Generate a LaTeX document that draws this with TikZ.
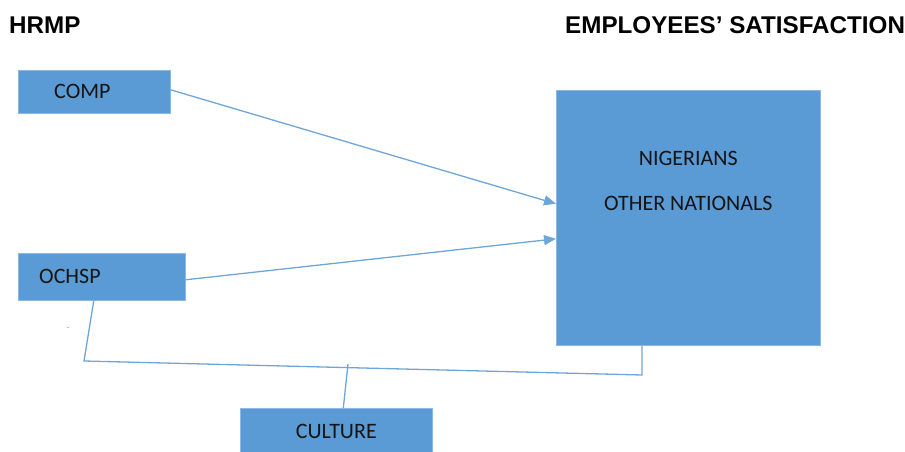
\documentclass[tikz,border=0pt]{standalone}
\usepackage{fontspec}
\setmainfont{Carlito}
\newfontfamily\headfont{Liberation Sans}
\usetikzlibrary{arrows.meta, calc, positioning}
\definecolor{box_blue}{HTML}{5B9BD5}
\definecolor{box_edge}{HTML}{8DB8E4}
\definecolor{link_blue}{HTML}{6FA6DA}
\definecolor{ink}{HTML}{141414}
\tikzstyle{hrm_box}=[rectangle, fill=box_blue, draw=box_edge, line width=0.6pt, inner sep=0, align=center, text=ink, font=\fontsize{22}{26}\selectfont]
\tikzstyle{box_text}=[inner sep=0, text=ink, font=\fontsize{22}{26}\selectfont]
\tikzstyle{heading}=[inner sep=0, anchor=west, font=\headfont\bfseries\fontsize{24.2}{29}\selectfont]
\tikzstyle{link}=[link_blue, line width=1.3pt]
\tikzstyle{link_arrow}=[link, -{Triangle[length=12pt, width=10pt]}]

\begin{document}
\begin{tikzpicture}[x=1pt, y=-1pt]
\useasboundingbox (0,0) rectangle (905,452);

% headings
\node [heading] (hrmp_head) at (9,25) {HRMP};
\node [heading] (sat_head)  at (565,25) {EMPLOYEES’ SATISFACTION};

% HRMP boxes
\node [hrm_box, minimum width=152pt, minimum height=43pt, anchor=north west] (comp) at (18,70) {};
\node [box_text] (comp_text) [right=36pt of comp.west, anchor=west] {COMP};
\node [hrm_box, minimum width=167pt, minimum height=47pt, anchor=north west] (ochsp) at (18,253) {};
\node [box_text] (ochsp_text) [right=21pt of ochsp.west, anchor=west] {OCHSP};
\node [hrm_box, minimum width=192pt, minimum height=46pt, anchor=north west] (culture) at (240,408) {CULTURE};

% satisfaction panel
\node [hrm_box, minimum width=264pt, minimum height=255pt, anchor=north west] (satisfaction) at (556,90) {};
\node [box_text] (nigerians) at ([yshift=-68pt]satisfaction.north) {NIGERIANS};
\node [box_text] (others)    at ([yshift=-113pt]satisfaction.north) {OTHER NATIONALS};

% stray tick left of the loop
\node [inner sep=0, text=link_blue, font=\small] (tick) at (68,329) {-};

% arrows into the panel
\draw [link_arrow] ([yshift=2pt]comp.east) -- ([yshift=14pt]satisfaction.west);
\draw [link_arrow] ([yshift=-3pt]ochsp.east) -- ([yshift=-21pt]satisfaction.west);

% culture loop under the boxes
\coordinate (ochsp_bend) at (84,361);
\coordinate (panel_bend) at (642,375);
\coordinate (culture_join) at (348,364);
\draw [link] ([xshift=-8pt]ochsp.south) -- (ochsp_bend) -- (panel_bend) -- (panel_bend |- satisfaction.south);
\draw [link] ([xshift=7pt]culture.north) -- (culture_join);

\end{tikzpicture}
\end{document}
